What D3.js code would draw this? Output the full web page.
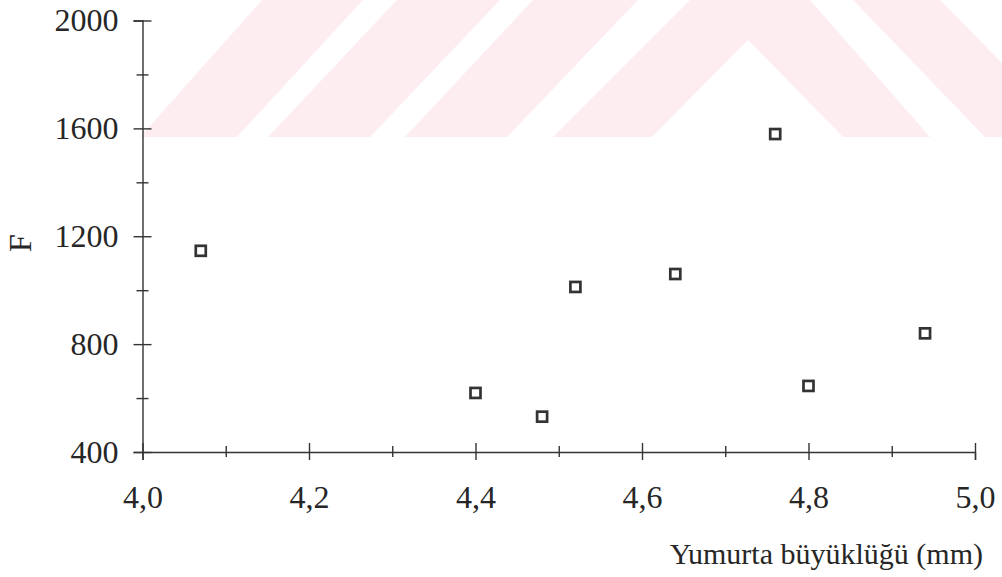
<!DOCTYPE html>
<html lang="tr">
<head>
<meta charset="UTF-8">
<title>F ve yumurta büyüklüğü</title>
<script src="https://cdn.jsdelivr.net/npm/d3@7"></script>
<style>
   html, body {
      margin: 0;
      padding: 0;
      background: #fff;
      overflow: hidden;
   }

   text {
      font-family: "Liberation Serif", "Times New Roman", serif;
      fill: #262626;
   }

   .axis path,
   .axis line {
      stroke: #333;
      stroke-width: 1.4;
   }

   .point {
      fill: none;
      stroke: #333;
      stroke-width: 2.7;
   }

   .watermark {
      fill: #fdedf0;
   }
</style>
</head>
<body>
<svg id="chart"></svg>
<script>
   // data
   const eggSize = [4.07, 4.40, 4.48, 4.52, 4.64, 4.76, 4.80, 4.94]
   const fValues = [1146, 619, 531, 1012, 1060, 1579, 645, 840]

   const xTicks = [4.0, 4.2, 4.4, 4.6, 4.8, 5.0]
   const xMinorTicks = [4.1, 4.3, 4.5, 4.7, 4.9]
   const yTicks = [400, 800, 1200, 1600, 2000]
   const yMinorTicks = [600, 1000, 1400, 1800]

   const xTitle = 'Yumurta büyüklüğü (mm)'
   const yTitle = 'F'

   // pale striped watermark at the top of the scan (pixel shapes, not data)
   const watermarkShapes = [
      [[140, 137], [237, 137], [363, 0], [262, 0]],
      [[268, 137], [370, 137], [500, 0], [397, 0]],
      [[405, 137], [507, 137], [638, 0], [533, 0]],
      [[553, 137], [690, 0], [810, 0], [930, 137], [843, 137], [748, 40], [652, 137]],
      [[853, 0], [940, 0], [1002, 63], [1002, 137], [985, 137]]
   ]

   const WIDTH = 1002
   const HEIGHT = 577

   const svg = d3.select('#chart')
      .attr('width', WIDTH)
      .attr('height', HEIGHT)

   // watermark
   svg.append('g')
      .selectAll('polygon')
      .data(watermarkShapes)
      .join('polygon')
      .attr('class', 'watermark')
      .attr('points', d => d.map(p => p.join(',')).join(' '))

   // scales
   const x = d3.scaleLinear()
      .domain([4.0, 5.0])
      .range([142.5, 975])

   const y = d3.scaleLinear()
      .domain([400, 2000])
      .range([452, 20.5])

   const fmt = d => d.toFixed(1).replace('.', ',')

   // x axis, major ticks cross the line
   const xAxisGroup = svg.append('g')
      .attr('class', 'axis')
      .attr('transform', `translate(0, ${y(400)})`)
      .call(d3.axisBottom(x).tickValues(xTicks).tickFormat(fmt).tickSizeOuter(0).tickSize(8))

   xAxisGroup.selectAll('.tick line').attr('y1', -9)
   xAxisGroup.selectAll('.tick text')
      .attr('y', 56)
      .attr('dy', 0)
      .style('font-size', '32px')

   const xMinor = svg.append('g')
      .attr('class', 'axis')
      .attr('transform', `translate(0, ${y(400)})`)
      .call(d3.axisBottom(x).tickValues(xMinorTicks).tickFormat('').tickSizeOuter(0).tickSize(5))
   xMinor.select('.domain').remove()
   xMinor.selectAll('.tick line').attr('y1', -6)

   // y axis
   const yAxisGroup = svg.append('g')
      .attr('class', 'axis')
      .attr('transform', `translate(${x(4.0)}, 0)`)
      .call(d3.axisLeft(y).tickValues(yTicks).tickFormat(d3.format('d')).tickSizeOuter(0).tickSize(9))

   yAxisGroup.selectAll('.tick line').attr('x1', 9)
   yAxisGroup.selectAll('.tick text')
      .attr('x', -24)
      .attr('dy', '0.32em')
      .style('font-size', '32px')

   const yMinor = svg.append('g')
      .attr('class', 'axis')
      .attr('transform', `translate(${x(4.0)}, 0)`)
      .call(d3.axisLeft(y).tickValues(yMinorTicks).tickFormat('').tickSizeOuter(0).tickSize(6))
   yMinor.select('.domain').remove()
   yMinor.selectAll('.tick line').attr('x1', 6)

   // axis titles
   svg.append('text')
      .attr('x', 983)
      .attr('y', 564)
      .attr('text-anchor', 'end')
      .style('font-size', '30px')
      .text(xTitle)

   svg.append('text')
      .attr('transform', 'translate(31, 243) rotate(-90)')
      .attr('text-anchor', 'middle')
      .style('font-size', '32px')
      .text(yTitle)

   // points
   const points = eggSize.map((v, i) => ({ x: v, y: fValues[i] }))
   const S = 10

   svg.append('g')
      .selectAll('rect')
      .data(points)
      .join('rect')
      .attr('class', 'point')
      .attr('x', d => x(d.x) - S / 2)
      .attr('y', d => y(d.y) - S / 2)
      .attr('width', S)
      .attr('height', S)
</script>
</body>
</html>
